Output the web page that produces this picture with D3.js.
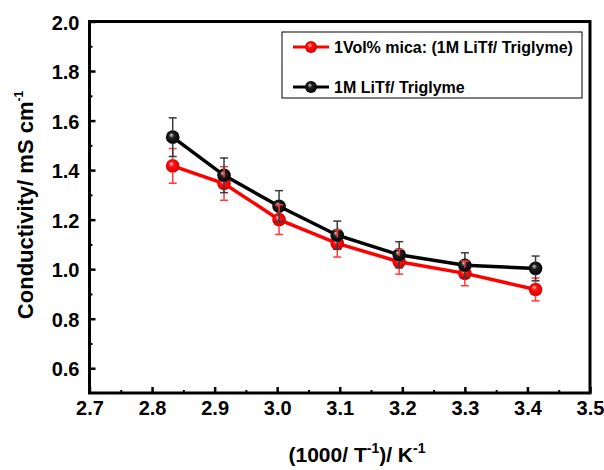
<!DOCTYPE html>
<html>
<head>
<meta charset="utf-8">
<script src="https://cdn.jsdelivr.net/npm/d3@7"></script>
<style>
  body { margin: 0; background: #fff; }
  svg text { font-family: Arial, "Liberation Sans", sans-serif; font-weight: bold; }
</style>
</head>
<body>
<div id="chart"></div>
<script>
// 1000/T values (K^-1)
var invTemp = [2.833, 2.915, 3.003, 3.096, 3.195, 3.300, 3.413];
// 1 vol% mica in 1M LiTf/Triglyme
var micaVals = [1.417, 1.346, 1.200, 1.104, 1.030, 0.983, 0.918];
var micaErr  = [0.070, 0.068, 0.060, 0.055, 0.050, 0.050, 0.046];
// plain 1M LiTf/Triglyme
var baseVals = [1.533, 1.379, 1.254, 1.137, 1.058, 1.016, 1.003];
var baseErr  = [0.078, 0.070, 0.063, 0.057, 0.053, 0.050, 0.050];

var xTicks = [2.7, 2.8, 2.9, 3.0, 3.1, 3.2, 3.3, 3.4, 3.5];
var yTicks = [0.6, 0.8, 1.0, 1.2, 1.4, 1.6, 1.8, 2.0];
var seriesNames = ["1Vol% mica: (1M LiTf/ Triglyme)", "1M LiTf/ Triglyme"];

var width = 604, height = 470;
var plotLeft = 89.5, plotRight = 590, plotTop = 21.5, plotBottom = 393;

var svg = d3.select("#chart").append("svg")
    .attr("width", width)
    .attr("height", height);

var defs = svg.append("defs");
function ballGradient(id, hi, mid, edge) {
    var g = defs.append("radialGradient").attr("id", id)
        .attr("cx", "50%").attr("cy", "50%").attr("r", "55%")
        .attr("fx", "38%").attr("fy", "32%");
    g.append("stop").attr("offset", "0%").attr("stop-color", hi);
    g.append("stop").attr("offset", "35%").attr("stop-color", mid);
    g.append("stop").attr("offset", "100%").attr("stop-color", edge);
}
ballGradient("ballRed", "#ffd0d0", "#ff1010", "#d00000");
ballGradient("ballBlack", "#d8d8d8", "#202020", "#000000");

var x = d3.scaleLinear().domain([2.7, 3.5]).range([plotLeft, plotRight]);
var y = d3.scaleLinear().domain([0.5, 2.0]).range([plotBottom, plotTop]);

// minor ticks
var xMinor = d3.range(2.75, 3.5, 0.1);
var yMinor = d3.range(0.7, 2.0, 0.2);

svg.append("g")
    .attr("transform", "translate(0," + plotBottom + ")")
    .call(d3.axisBottom(x).tickValues(xMinor).tickSize(-3).tickFormat(""))
    .call(function(g) { g.select(".domain").remove(); g.selectAll("line").attr("stroke-width", 2); });
svg.append("g")
    .attr("transform", "translate(" + plotLeft + ",0)")
    .call(d3.axisLeft(y).tickValues(yMinor).tickSize(-3).tickFormat(""))
    .call(function(g) { g.select(".domain").remove(); g.selectAll("line").attr("stroke-width", 2); });

// major ticks
var xAxis = svg.append("g")
    .attr("transform", "translate(0," + plotBottom + ")")
    .call(d3.axisBottom(x).tickValues(xTicks).tickSize(-6).tickPadding(18).tickFormat(d3.format(".1f")));
xAxis.select(".domain").remove();
xAxis.selectAll("line").attr("stroke-width", 2.5);
xAxis.selectAll("text").attr("font-size", 20).attr("fill", "#000").attr("dy", "0.2em");

var yAxis = svg.append("g")
    .attr("transform", "translate(" + plotLeft + ",0)")
    .call(d3.axisLeft(y).tickValues(yTicks).tickSize(-6).tickPadding(10).tickFormat(d3.format(".1f")));
yAxis.select(".domain").remove();
yAxis.selectAll("line").attr("stroke-width", 2.5);
yAxis.selectAll("text").attr("font-size", 20).attr("fill", "#000").attr("dy", "0.38em");

// frame
svg.append("rect")
    .attr("x", plotLeft).attr("y", plotTop)
    .attr("width", plotRight - plotLeft).attr("height", plotBottom - plotTop)
    .attr("fill", "none").attr("stroke", "#000").attr("stroke-width", 3);

var series = [
    { vals: micaVals, err: micaErr, color: "#ff0000", errColor: "#ff3a3a", ball: "url(#ballRed)" },
    { vals: baseVals, err: baseErr, color: "#000000", errColor: "#3a3a3a", ball: "url(#ballBlack)" }
];

var line = d3.line()
    .x(function(d, i) { return x(invTemp[i]); })
    .y(function(d) { return y(d); });

series.forEach(function(s) {
    svg.append("path")
        .datum(s.vals)
        .attr("d", line)
        .attr("fill", "none")
        .attr("stroke", s.color)
        .attr("stroke-width", 3.5);
});

series.forEach(function(s) {
    svg.append("g").selectAll("circle")
        .data(s.vals)
        .enter().append("circle")
        .attr("cx", function(d, i) { return x(invTemp[i]); })
        .attr("cy", function(d) { return y(d); })
        .attr("r", 6.8)
        .attr("fill", s.ball);
});

// error bars
series.forEach(function(s) {
    var g = svg.append("g").attr("stroke", s.errColor).attr("stroke-width", 1.5);
    s.vals.forEach(function(v, i) {
        var cx = x(invTemp[i]);
        var y1 = y(v + s.err[i]), y2 = y(v - s.err[i]);
        g.append("line").attr("x1", cx).attr("x2", cx).attr("y1", y1).attr("y2", y(v) - 6);
        g.append("line").attr("x1", cx).attr("x2", cx).attr("y1", y(v) + 6).attr("y2", y2);
        g.append("line").attr("x1", cx - 4).attr("x2", cx + 4).attr("y1", y1).attr("y2", y1);
        g.append("line").attr("x1", cx - 4).attr("x2", cx + 4).attr("y1", y2).attr("y2", y2);
    });
});

// legend
var legend = svg.append("g");
legend.append("rect")
    .attr("x", 282).attr("y", 32).attr("width", 300).attr("height", 66)
    .attr("fill", "#fff").attr("stroke", "#000").attr("stroke-width", 1);
series.forEach(function(s, i) {
    var ly = 47 + i * 40;
    legend.append("line")
        .attr("x1", 293).attr("x2", 329).attr("y1", ly).attr("y2", ly)
        .attr("stroke", s.color).attr("stroke-width", 3);
    legend.append("circle")
        .attr("cx", 311).attr("cy", ly).attr("r", 6)
        .attr("fill", s.ball);
    legend.append("text")
        .attr("x", 334).attr("y", ly).attr("dy", "0.36em")
        .attr("font-size", 16)
        .text(seriesNames[i]);
});

// axis titles
var yt = svg.append("text")
    .attr("transform", "translate(33,205) rotate(-90)")
    .attr("text-anchor", "middle")
    .attr("font-size", 22);
yt.append("tspan").text("Conductivity/ mS cm");
yt.append("tspan").attr("font-size", 12).attr("dy", -10).text("-1");

var xt = svg.append("text")
    .attr("x", 357).attr("y", 462)
    .attr("text-anchor", "middle")
    .attr("font-size", 21);
xt.append("tspan").text("(1000/ T");
xt.append("tspan").attr("font-size", 14).attr("dy", -9).text("-1");
xt.append("tspan").attr("dy", 9).text(")/ K");
xt.append("tspan").attr("font-size", 14).attr("dy", -9).text("-1");
</script>
</body>
</html>
